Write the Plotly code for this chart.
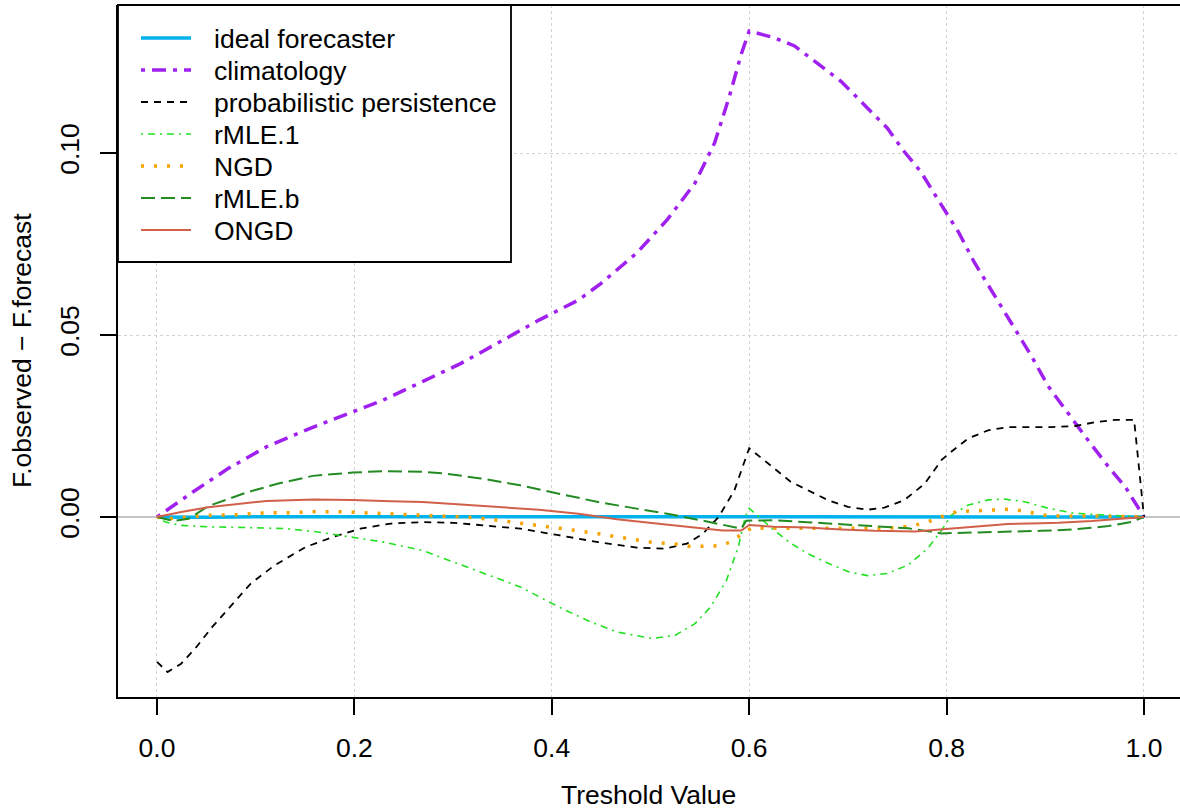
import plotly.graph_objects as go

# ---------------- data ----------------
ideal_x = [0.0, 0.05, 0.1, 0.15, 0.2, 0.25, 0.3, 0.35, 0.4, 0.45, 0.5,
           0.55, 0.6, 0.65, 0.7, 0.75, 0.8, 0.85, 0.9, 0.95, 1.0]
ideal_y = [0.0, -0.0001, 0.0001, 0.0001, 0.0, 0.0001, 0.0001, 0.0, 0.0001, 0.0001, 0.0,
           0.0, 0.0001, 0.0001, 0.0001, 0.0001, 0.0001, 0.0001, 0.0001, 0.0001, 0.0]

clim_x = [0.0, 0.036, 0.072, 0.111, 0.151, 0.198, 0.229, 0.269, 0.308, 0.348, 0.387,
          0.427, 0.450, 0.486, 0.517, 0.545, 0.565, 0.580, 0.592, 0.600, 0.625, 0.646,
          0.669, 0.693, 0.720, 0.740, 0.757, 0.774, 0.795, 0.812, 0.828, 0.849, 0.869,
          0.886, 0.903, 0.923, 0.943, 0.964, 0.981, 1.0]
clim_y = [0.0, 0.0068, 0.0133, 0.0193, 0.0239, 0.0289, 0.0321, 0.0372, 0.0422, 0.0482, 0.0541,
          0.0596, 0.0642, 0.0725, 0.0817, 0.0917, 0.1028, 0.1156, 0.1272, 0.1335, 0.1317, 0.1294,
          0.1248, 0.1197, 0.1123, 0.1068, 0.1004, 0.0948, 0.0856, 0.0783, 0.0700, 0.0608, 0.0516,
          0.0442, 0.0359, 0.0285, 0.0212, 0.0138, 0.0083, 0.0]

pers_x = [0.0, 0.0107, 0.0245, 0.040, 0.056, 0.072, 0.095, 0.119, 0.151, 0.178, 0.206,
          0.237, 0.269, 0.301, 0.332, 0.368, 0.407, 0.447, 0.486, 0.514, 0.537, 0.553,
          0.569, 0.585, 0.600, 0.619, 0.642, 0.659, 0.680, 0.700, 0.720, 0.737, 0.757,
          0.778, 0.795, 0.805, 0.822, 0.842, 0.862, 0.883, 0.906, 0.930, 0.950, 0.971,
          0.990, 1.0]
pers_y = [-0.0398, -0.0426, -0.0403, -0.0357, -0.0302, -0.0252, -0.0183, -0.0133, -0.0082, -0.0055, -0.0032,
          -0.0018, -0.0014, -0.0016, -0.0023, -0.0032, -0.0050, -0.0069, -0.0084, -0.0087, -0.0073, -0.0046,
          0.0, 0.0073, 0.0189, 0.0147, 0.0097, 0.0074, 0.0046, 0.0028, 0.0020, 0.0026, 0.0046,
          0.0092, 0.0157, 0.0180, 0.0216, 0.0238, 0.0247, 0.0247, 0.0247, 0.0250, 0.0260, 0.0267,
          0.0267, 0.0]

r1_x = [0.0, 0.0087, 0.0245, 0.052, 0.0915, 0.131, 0.1625, 0.198, 0.230, 0.269, 0.301,
        0.328, 0.368, 0.407, 0.439, 0.466, 0.502, 0.525, 0.545, 0.561, 0.577, 0.589,
        0.596, 0.600, 0.612, 0.625, 0.642, 0.659, 0.680, 0.700, 0.720, 0.740, 0.761,
        0.781, 0.795, 0.805, 0.822, 0.842, 0.859, 0.879, 0.903, 0.930, 0.964, 1.0]
r1_y = [0.0, -0.0014, -0.0023, -0.0027, -0.0029, -0.0032, -0.0041, -0.0055, -0.0069, -0.0092, -0.0124,
        -0.0151, -0.0192, -0.0247, -0.0288, -0.0316, -0.0334, -0.0325, -0.0293, -0.0247, -0.0174, -0.0082,
        0.0, 0.0024, -0.0004, -0.0036, -0.0072, -0.0100, -0.0127, -0.0150, -0.0161, -0.0155, -0.0132,
        -0.0086, -0.0036, 0.0005, 0.0033, 0.0047, 0.0049, 0.0042, 0.0024, 0.0010, 0.0005, 0.0]

ngd_x = [0.0, 0.0126, 0.040, 0.054, 0.080, 0.107, 0.135, 0.1625, 0.190, 0.218, 0.245,
         0.271, 0.312, 0.340, 0.366, 0.393, 0.419, 0.447, 0.474, 0.500, 0.527, 0.541,
         0.569, 0.581, 0.593, 0.603, 0.617, 0.650, 0.685, 0.712, 0.739, 0.752, 0.766,
         0.779, 0.793, 0.805, 0.818, 0.832, 0.845, 0.859, 0.872, 0.886, 0.900, 0.913,
         0.950, 1.0]
ngd_y = [0.0, -0.0005, 0.0002, 0.0005, 0.0006, 0.0011, 0.0012, 0.0015, 0.0014, 0.0011, 0.0008,
         0.0006, 0.0, -0.0007, -0.0016, -0.0024, -0.0035, -0.0046, -0.0057, -0.0069, -0.0075, -0.0081,
         -0.0079, -0.0069, -0.0046, -0.0029, -0.0031, -0.0031, -0.0031, -0.0031, -0.0031, -0.0028, -0.0024,
         -0.0015, -0.0002, 0.0012, 0.0016, 0.0017, 0.0019, 0.0021, 0.0019, 0.0013, 0.0005, 0.0003,
         0.0003, 0.0]

rb_x = [0.0, 0.0166, 0.032, 0.052, 0.0915, 0.123, 0.158, 0.198, 0.229, 0.269, 0.293,
        0.328, 0.368, 0.407, 0.447, 0.486, 0.517, 0.553, 0.592, 0.597, 0.625, 0.676,
        0.727, 0.761, 0.795, 0.828, 0.862, 0.896, 0.930, 0.964, 0.988, 1.0]
rb_y = [0.0, -0.0011, -0.0005, 0.0030, 0.0068, 0.0092, 0.0113, 0.0122, 0.0126, 0.0124, 0.0119,
        0.0106, 0.0087, 0.0064, 0.0041, 0.0023, 0.0009, -0.0010, -0.0032, -0.0010, -0.0009, -0.0017,
        -0.0025, -0.0031, -0.0045, -0.0043, -0.0040, -0.0038, -0.0034, -0.0025, -0.0013, 0.0]

on_x = [0.0, 0.0245, 0.052, 0.080, 0.111, 0.159, 0.198, 0.237, 0.269, 0.308, 0.348,
        0.387, 0.427, 0.466, 0.506, 0.545, 0.573, 0.592, 0.600, 0.625, 0.659, 0.693,
        0.727, 0.768, 0.795, 0.828, 0.862, 0.896, 0.913, 0.947, 0.981, 1.0]
on_y = [0.0, 0.0014, 0.0027, 0.0035, 0.0044, 0.0048, 0.0047, 0.0043, 0.0041, 0.0034, 0.0027,
        0.0020, 0.0009, -0.0006, -0.0018, -0.0030, -0.0037, -0.0037, -0.0022, -0.0027, -0.0029, -0.0034,
        -0.0038, -0.0040, -0.0034, -0.0025, -0.0019, -0.0017, -0.0016, -0.0011, -0.0005, 0.0]

x_ticks = [0.0, 0.2, 0.4, 0.6, 0.8, 1.0]
x_tick_labels = ["0.0", "0.2", "0.4", "0.6", "0.8", "1.0"]
y_ticks = [0.0, 0.05, 0.10]
y_tick_labels = ["0.00", "0.05", "0.10"]

series_names = ["ideal forecaster", "climatology", "probabilistic persistence",
                "rMLE.1", "NGD", "rMLE.b", "ONGD"]

# ---------------- styles ----------------
styles = [
    dict(color="#00B2EE", width=3.5, dash="solid"),
    dict(color="#A020F0", width=3.5, dash="4px,7px,14px,7px"),
    dict(color="#000000", width=1.8, dash="7px,6px"),
    dict(color="#22E022", width=1.6, dash="2px,5px,7px,5px"),
    dict(color="#F5A300", width=3.5, dash="3px,10px"),
    dict(color="#228B22", width=2.0, dash="14px,6px"),
    dict(color="#D0604A", width=2.0, dash="solid"),
]
data = [(ideal_x, ideal_y), (clim_x, clim_y), (pers_x, pers_y), (r1_x, r1_y),
        (ngd_x, ngd_y), (rb_x, rb_y), (on_x, on_y)]

FONT = "Liberation Sans, Arial, Helvetica, sans-serif"
FS = 26.5
W, H = 1180, 809
L, T, B = 118, 5, 697  # plot area pixel edges
PW, PH = W - L, B - T

def px(xp):
    return (xp - L) / PW

def py(yp):
    return (B - yp) / PH

fig = go.Figure()
for (xs, ys), name, st in zip(data, series_names, styles):
    fig.add_trace(go.Scatter(x=xs, y=ys, mode="lines", name=name,
                             line=dict(color=st["color"], width=st["width"], dash=st["dash"]),
                             showlegend=False))

# ---------------- custom legend (R style) ----------------
shapes = [
    dict(type="line", xref="paper", yref="paper", x0=0, x1=1, y0=1, y1=1,
         line=dict(color="black", width=2)),
    dict(type="rect", xref="paper", yref="paper", x0=px(118), x1=px(511), y0=py(262), y1=py(5),
         line=dict(color="black", width=1.8), fillcolor="white", layer="above"),
]
annotations = []
for i, (name, st) in enumerate(zip(series_names, styles)):
    yy = 38 + 32 * i
    shapes.append(dict(type="line", xref="paper", yref="paper", x0=px(141), x1=px(191),
                       y0=py(yy), y1=py(yy), layer="above",
                       line=dict(color=st["color"], width=st["width"], dash=st["dash"])))
    annotations.append(dict(text=name, xref="paper", yref="paper", x=px(212), y=py(yy + 1),
                            xanchor="left", yanchor="middle", showarrow=False,
                            font=dict(family=FONT, size=FS, color="black")))

annotations.append(dict(text="Treshold Value", xref="paper", yref="paper",
                        x=px(648), y=py(795), xanchor="center", yanchor="middle",
                        showarrow=False, font=dict(family=FONT, size=FS, color="black")))
annotations.append(dict(text="F.observed \u2212 F.forecast", xref="paper", yref="paper",
                        x=px(22), y=py(351), xanchor="center", yanchor="middle", textangle=-90,
                        showarrow=False, font=dict(family=FONT, size=FS, color="black")))

fig.update_layout(
    width=W, height=H,
    margin=dict(l=L, r=0, t=T, b=H - B, pad=0),
    paper_bgcolor="white", plot_bgcolor="white",
    font=dict(family=FONT, size=FS, color="black"),
    shapes=shapes, annotations=annotations,
    showlegend=False,
)
fig.update_xaxes(
    range=[-0.0395, -0.0395 + PW / 987.0],
    tickvals=x_ticks, ticktext=x_tick_labels,
    ticks="outside", ticklen=16, tickwidth=1.5, tickcolor="black",
    showline=True, linecolor="black", linewidth=2,
    showgrid=True, gridcolor="#D3D3D3", griddash="dot", gridwidth=1,
    zeroline=False, ticklabelstandoff=10,
    tickfont=dict(family=FONT, size=FS, color="black"),
)
fig.update_yaxes(
    range=[-(B - 517) / 3640.0, (517 - T) / 3640.0],
    tickvals=y_ticks, ticktext=y_tick_labels, tickangle=-90,
    ticks="outside", ticklen=16, tickwidth=1.5, tickcolor="black",
    showline=True, linecolor="black", linewidth=2,
    showgrid=True, gridcolor="#D3D3D3", griddash="dot", gridwidth=1,
    zeroline=True, zerolinecolor="#C4C4C4", zerolinewidth=2,
    ticklabelstandoff=10,
    tickfont=dict(family=FONT, size=FS, color="black"),
)

fig.write_html("out.html",
               config={"displayModeBar": False},
               post_script="document.body.style.margin='0';document.body.style.padding='0';"
                           "document.documentElement.style.overflow='hidden';")
